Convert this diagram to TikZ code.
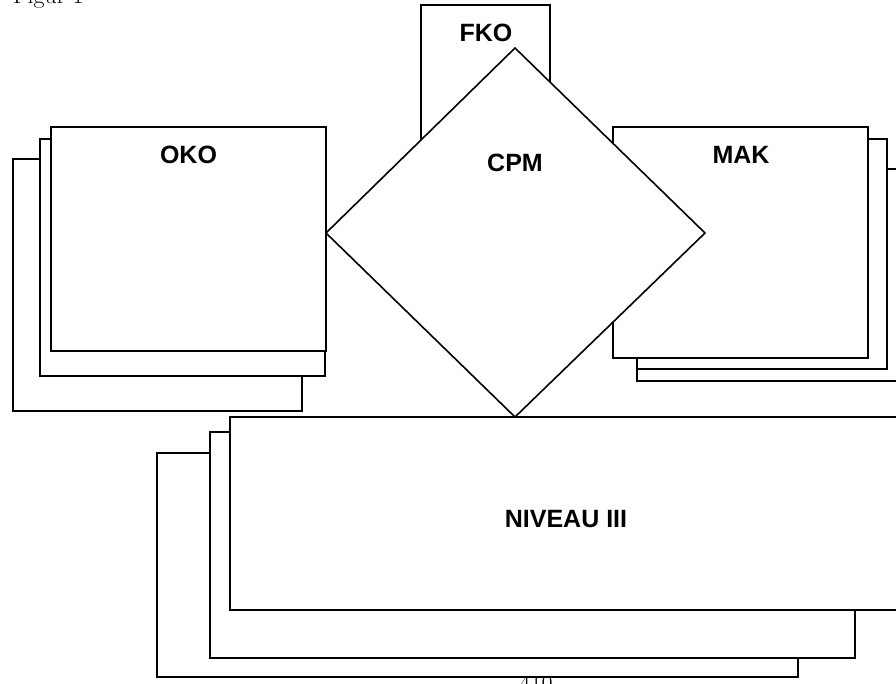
\documentclass[tikz,border=0pt]{standalone}
\usepackage{fontspec}
\newfontfamily\labfont{Liberation Sans}
\begin{document}
\begin{tikzpicture}[x=1pt,y=-1pt,
  box/.style={draw=black,fill=white,line width=1.6pt},
  lab/.style={font=\labfont\bfseries\fontsize{25}{30}\selectfont,anchor=base,inner sep=0pt},
  captext/.style={font=\fontsize{24}{28}\selectfont,anchor=base,inner sep=0pt}]
\useasboundingbox (0,0) rectangle (896,684);
% caption texts
\node[captext,anchor=base west] (fig) at (13,3.5) {Figur 1};
\node[captext] (page) at (536,691) {410};
% OKO stack
\path[box] (13,159) rectangle (302,411);
\path[box] (40,139) rectangle (325,376);
\path[box] (51,127) rectangle (326,351);
\node[lab] (oko) at (188.5,163.5) {OKO};
% MAK stack
\path[box] (637,169) rectangle (910,381);
\path[box] (637,139) rectangle (887,369);
\path[box] (613,127) rectangle (868,358);
\node[lab] (mak) at (741,163.5) {MAK};
% FKO
\path[box] (421,5) rectangle (550,220);
\node[lab] (fko) at (486,41.5) {FKO};
% NIVEAU III stack
\path[box] (157,453) rectangle (798,677);
\path[box] (210,432) rectangle (855,658);
\path[box] (230,417) rectangle (910,610);
\node[lab] (niv) at (566,527) {NIVEAU III};
% CPM diamond
\coordinate (dt) at (515,48);
\coordinate (dr) at (705,233);
\coordinate (db) at (515,417);
\coordinate (dl) at (326,233);
\path[box,line join=miter] (dt) -- (dr) -- (db) -- (dl) -- cycle;
\node[lab] (cpm) at (515,172) {CPM};
\end{tikzpicture}
\end{document}
